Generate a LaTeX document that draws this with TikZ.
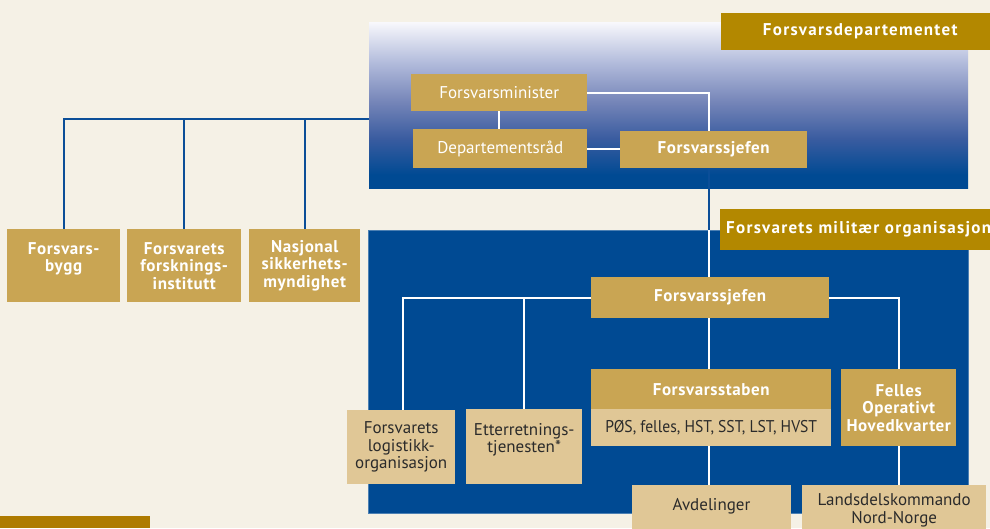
\documentclass[tikz,border=0pt]{standalone}
\usepackage{fontspec}
\setmainfont{PT Sans}[BoldFeatures={LetterSpace=3.5}]
\newfontfamily\labelfont{PT Sans}[BoldFeatures={LetterSpace=7.5}]
\newfontfamily\narrowfont{PT Sans}[FakeStretch=0.92]
\usetikzlibrary{calc}
\definecolor{cream}{HTML}{F5F1E6}
\definecolor{fblue}{HTML}{004A93}
\definecolor{lblue}{HTML}{0B4E98}
\definecolor{fgold}{HTML}{C9A553}
\definecolor{ftan}{HTML}{E0C796}
\definecolor{flabel}{HTML}{B38800}
\definecolor{fbar}{HTML}{AE7B00}
\definecolor{ftext}{HTML}{2B2B2B}
\definecolor{gtop}{HTML}{F8F8FC}
\definecolor{gA}{HTML}{B3BCDC}
\definecolor{gB}{HTML}{7585B8}
\definecolor{gC}{HTML}{3A5CA0}
\pgfdeclareverticalshading{topgrad}{100bp}{color(0bp)=(fblue); color(29bp)=(fblue); color(40bp)=(gC); color(51bp)=(gB); color(63bp)=(gA); color(75bp)=(gtop); color(100bp)=(gtop)}
\newcommand\boxfont{\fontsize{17}{17.5}\selectfont}
\tikzset{
  area/.style={inner sep=0pt, anchor=north west},
  goldbox/.style={fill=fgold, text=white, inner sep=0pt, anchor=north west, align=center, font=\boxfont},
  goldbold/.style={goldbox, font=\boxfont\bfseries},
  tanbox/.style={fill=ftan, text=ftext, inner sep=0pt, anchor=north west, align=center, font=\boxfont},
  labelbox/.style={fill=flabel, text=white, inner sep=0pt, anchor=north west, font=\labelfont\fontsize{17}{18}\selectfont\bfseries},
  wline/.style={draw=white, line width=1.8pt},
  bline/.style={draw=lblue, line width=2.2pt}
}
\begin{document}
\begin{tikzpicture}[x=1pt,y=-1pt]
\useasboundingbox (0,0) rectangle (990,528);
\clip (0,0) rectangle (990,528);
\fill[cream] (0,0) rectangle (990,528);
% areas
\node[area, shade, shading=topgrad, minimum width=599pt, minimum height=166pt] (topbox) at (369,22) {};
\node[area, fill=fblue, draw=fblue!70!white, line width=0.6pt, minimum width=600pt, minimum height=283pt] (lowbox) at (368,230) {};
\fill[fbar] (0,516) rectangle (150,528);
% labels
\node[labelbox, minimum width=269pt, minimum height=37pt] (fdlabel) at (721,13) {\hspace*{9pt}Forsvarsdepartementet};
\node[labelbox, minimum height=41pt, text width=270pt, align=left, inner xsep=0pt] (fmolabel) at (720,209) {\hspace*{6pt}Forsvarets militær organisasjon};
% ministry boxes
\node[goldbox, minimum width=176pt, minimum height=37pt] (minister) at (411,74) {Forsvarsminister};
\node[goldbox, minimum width=174pt, minimum height=39pt] (deprad) at (413,129) {Departementsråd};
\node[goldbold, minimum width=187pt, minimum height=37pt] (fsjA) at (620,131) {Forsvarssjefen};
% left boxes
\node[goldbold, minimum width=113pt, minimum height=73pt] (fbygg) at (7,229) {Forsvars-\\bygg\\\mbox{}};
\node[goldbold, minimum width=114pt, minimum height=73pt] (ffi) at (127,229) {Forsvarets\\forsknings-\\institutt};
\node[goldbold, minimum width=111pt, minimum height=73pt] (nsm) at (249,229) {Nasjonal\\sikkerhets-\\myndighet};
% military boxes
\node[goldbold, minimum width=238pt, minimum height=41pt] (fsjB) at (591,277) {Forsvarssjefen};
\node[goldbold, minimum width=240pt, minimum height=40pt] (fstab) at (591,369) {Forsvarsstaben};
\node[tanbox, minimum width=240pt, minimum height=37pt, font=\narrowfont\boxfont] (fstabsub) at (591,409) {PØS, felles, HST, SST, LST, HVST};
\node[goldbold, minimum width=115pt, minimum height=77pt] (foh) at (841,369) {Felles\\Operativt\\Hovedkvarter};
\node[tanbox, minimum width=108pt, minimum height=74pt] (flo) at (347,410) {Forsvarets\\logistikk-\\organisasjon};
\node[tanbox, minimum width=116pt, minimum height=75pt] (ett) at (466,409) {Etterretnings-\\tjenesten*\\\mbox{}};
\node[tanbox, anchor=north, minimum width=159pt, minimum height=50pt, text height=8pt, text depth=8pt] (avd) at (711.5,485) {Avdelinger};
\node[tanbox, minimum width=184pt, minimum height=50pt] (ldk) at (802,485) {Landsdelskommando\\Nord-Norge};
% connectors
\coordinate (spine) at (709,0);
\draw[wline] (minister.east) -| (fsjA.north -| spine);
\draw[wline] (minister.south) -- (minister.south |- deprad.north);
\draw[wline] (deprad.east) -- (deprad.east -| fsjA.west);
\draw[bline] (fsjA.south -| spine) -- (lowbox.north -| spine);
\draw[wline] (lowbox.north -| spine) -- (fsjB.north -| spine);
\coordinate (lt) at ([yshift=-97pt]topbox.north west);
\draw[bline] (lt) -- (lt -| fbygg.north) -- (fbygg.north);
\draw[bline] (lt -| ffi.north) -- (ffi.north);
\draw[bline] (lt -| nsm.north) -- (nsm.north);
\draw[wline] (fsjB.west) -| ([xshift=2pt]flo.north);
\draw[wline] (fsjB.west -| ett.north) -- (ett.north);
\draw[wline] (fsjB.east) -| (foh.north);
\draw[wline] (fsjB.south -| spine) -- (fstab.north -| spine);
\draw[wline] (fstabsub.south -| spine) -- (avd.north -| spine);
\draw[wline] (foh.south) -- (foh.south |- ldk.north);
\end{tikzpicture}
\end{document}
